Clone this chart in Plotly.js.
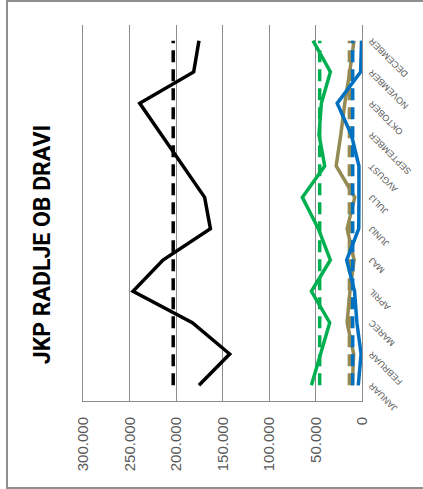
<!DOCTYPE html>
<html>
<head>
<meta charset="utf-8">
<script src="https://cdn.plot.ly/plotly-3.0.1.min.js"></script>
<style>
  html, body { margin:0; padding:0; background:#ffffff; overflow:hidden; width:423px; height:489px; }
  #chart { position:absolute; left:0; top:0; width:489px; height:423px;
           transform-origin:0 0; transform: translate(0px, 489px) rotate(-90deg); }
  #frame { position:absolute; left:6px; top:0px; width:430px; height:485px;
           border:2px solid #8f8f8f; pointer-events:none; z-index:5; }
</style>
</head>
<body>
<div id="chart"></div>
<div id="frame"></div>
<script>
const months = ['JANUAR','FEBRUAR','MAREC','APRIL','MAJ','JUNIJ','JULIJ','AVGUST','SEPTEMBER','OKTOBER','NOVEMBER','DECEMBER'];
const blackSeries = [175300, 142300, 182400, 246200, 214000, 163000, 169200, 192400, 215600, 239000, 181000, 175300];
const blackAvg    = [203000, 203000, 203000, 203000, 203000, 203000, 203000, 203000, 203000, 203000, 203000, 203000];
const greenSeries = [54400, 44500, 34700, 54400, 34000, 47000, 64100, 40100, 46200, 43700, 34000, 52700];
const greenAvg    = [45500, 45500, 45500, 45500, 45500, 45500, 45500, 45500, 45500, 45500, 45500, 45500];
const tanSeries   = [10500, 9000, 16000, 13000, 8500, 16000, 7800, 27800, 22800, 18500, 13200, 8600];
const tanAvg      = [13000, 13000, 13000, 13000, 13000, 13000, 13000, 13000, 13000, 13000, 13000, 13000];
const blueSeries  = [4000, 1000, 5500, 8000, 16500, 3500, 3300, 3300, 11500, 26700, 1500, 500];
const blueAvg     = [10000, 10000, 10000, 10000, 10000, 10000, 10000, 10000, 10000, 10000, 10000, 10000];

function line(y, color, width, dash, name) {
  return { type:'scatter', mode:'lines', x: months, y: y, name: name,
           line: { color: color, width: width, dash: dash || 'solid' }, hoverinfo:'skip' };
}

const data = [
  line(blackAvg, '#000000', 3.5, '12px,7px', 'Povprečje 1'),
  line(blackSeries, '#000000', 3.5, null, 'Serija 1'),
  line(greenAvg, '#00B050', 3.5, '12px,7px', 'Povprečje 2'),
  line(greenSeries, '#00B050', 3.5, null, 'Serija 2'),
  line(tanAvg, '#948A54', 4.5, '12px,7px', 'Povprečje 3'),
  line(tanSeries, '#948A54', 3.5, null, 'Serija 3'),
  line(blueAvg, '#0070C0', 3.5, '12px,7px', 'Povprečje 4'),
  line(blueSeries, '#0070C0', 3.5, null, 'Serija 4')
];

const layout = {
  width: 489, height: 423,
  margin: { l: 88, r: 25, t: 83, b: 61, pad: 0 },
  paper_bgcolor: 'rgba(0,0,0,0)', plot_bgcolor: 'rgba(0,0,0,0)',
  separators: ',.',
  showlegend: false,
  font: { family: 'Liberation Sans, Arial, sans-serif', color: '#595959' },
  title: {
    text: 'JKP RADLJE OB DRAVI',
    font: { family: 'Roboto, Liberation Sans, Arial, sans-serif', size: 23, color: '#000000', weight: 'bold' },
    x: 0.5, xref: 'container', xanchor: 'center',
    y: 1 - 42 / 423, yref: 'container', yanchor: 'middle'
  },
  xaxis: {
    type: 'category', categoryorder: 'array', categoryarray: months,
    range: [-0.5, 11.5], fixedrange: true,
    showline: true, mirror: true, linecolor: '#8c8c8c', linewidth: 1,
    showgrid: false, zeroline: false, ticks: '',
    tickangle: -45,
    tickfont: { size: 9, color: '#595959' }
  },
  yaxis: {
    range: [0, 300000], tick0: 0, dtick: 50000, tickformat: ',d', fixedrange: true,
    showgrid: true, gridcolor: '#8c8c8c', gridwidth: 1,
    showline: true, linecolor: '#8c8c8c', linewidth: 1,
    zeroline: false, ticks: '',
    ticklabelstandoff: 12,
    tickfont: { size: 15, color: '#595959' }
  }
};

Plotly.newPlot('chart', data, layout, { staticPlot: true, displayModeBar: false });
</script>
</body>
</html>
